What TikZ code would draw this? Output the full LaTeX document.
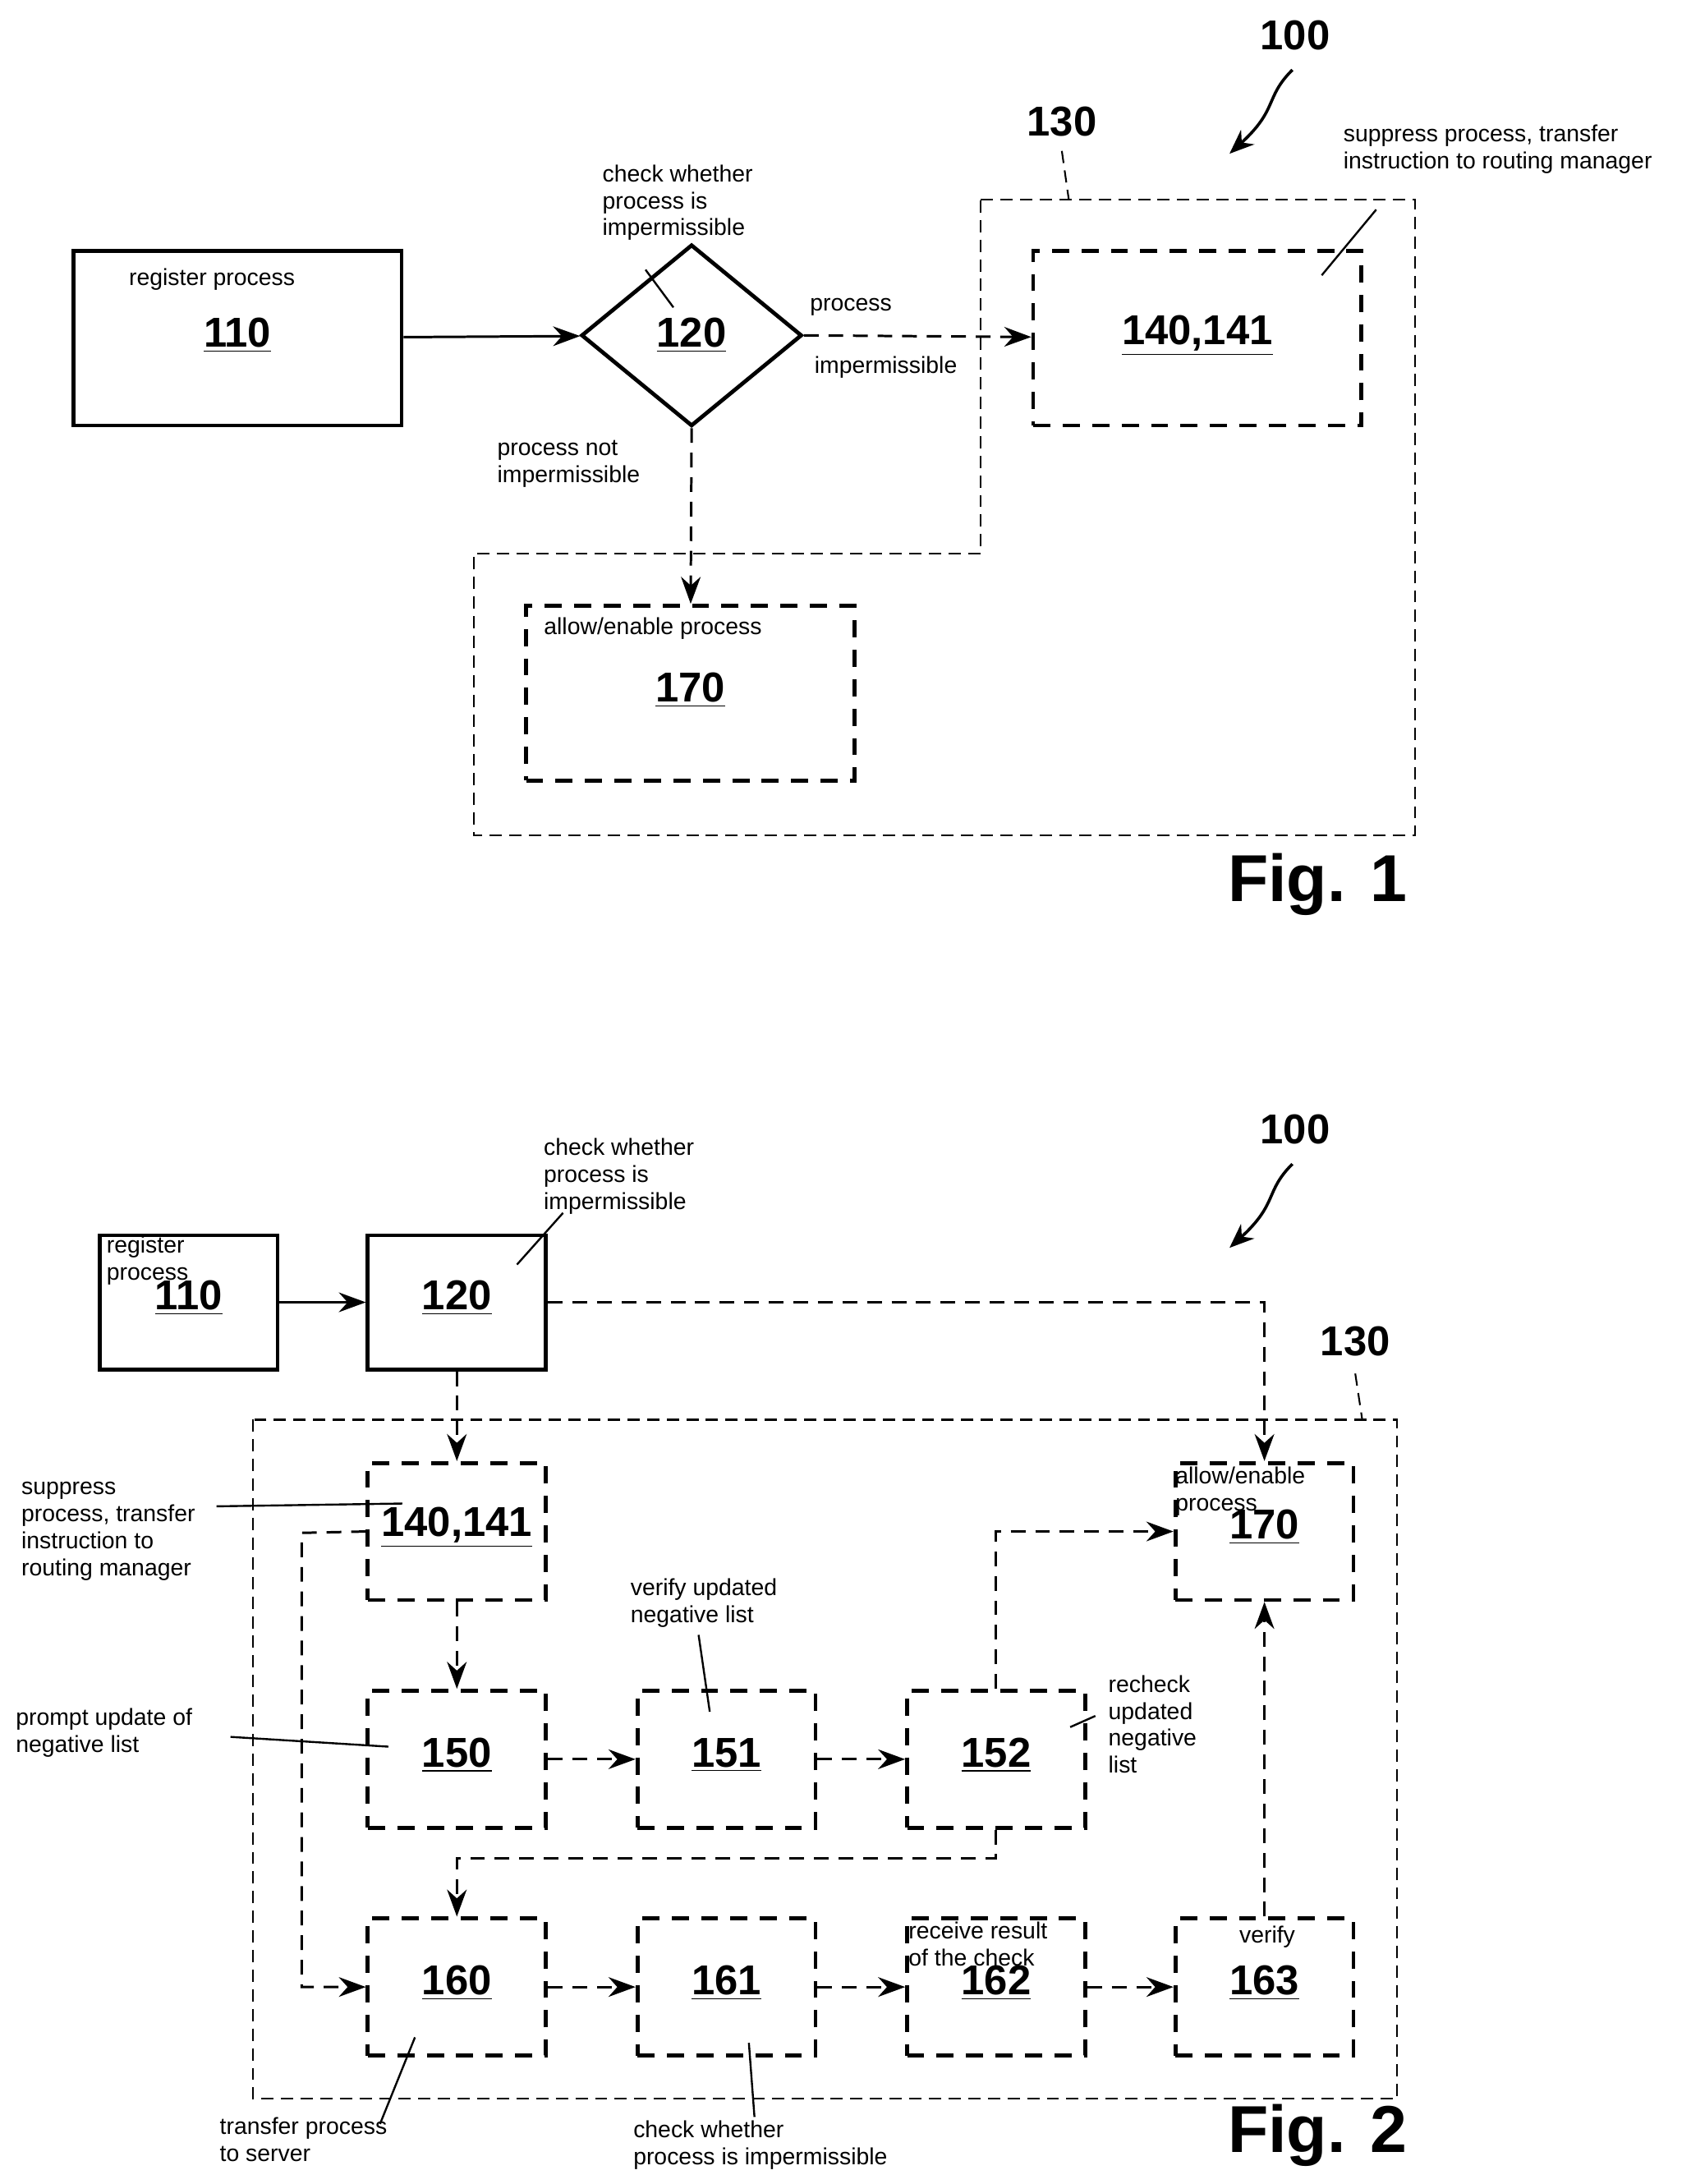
\documentclass[tikz,border=0pt]{standalone}
\usepackage{fontspec}
\setmainfont{Liberation Sans}
\usetikzlibrary{arrows.meta,shapes.geometric,positioning}
\tikzset{
  blk/.style={draw, line width=1.6pt, minimum width=4.7cm, minimum height=2.5cm},
  dblk/.style={blk, dash pattern=on 7pt off 5pt, minimum width=2.55cm, minimum height=1.96cm},
  flow/.style={line width=1pt, -{Stealth[length=11pt,width=8pt]}},
  dflow/.style={flow, dash pattern=on 6pt off 4pt},
  area/.style={draw, line width=0.7pt, dash pattern=on 5pt off 3pt},
  lbl/.style={font=\fontsize{9.5}{11}\selectfont, align=left, inner sep=0pt},
  num/.style={font=\bfseries\fontsize{17}{18}\selectfont},
  ref/.style={font=\bfseries\fontsize{17}{18}\selectfont},
  figl/.style={font=\bfseries\fontsize{27}{30}\selectfont},
  lead/.style={line width=0.8pt}
}
\newcommand{\nr}[1]{\underline{#1}}
\begin{document}
\begin{tikzpicture}[x=0.02cm, y=-0.02cm]
\useasboundingbox (0,0) rectangle (1210,1563);

 %Fig. 1
 \draw[area] (702,143) -- (1013,143) -- (1013,598) -- (339,598) -- (339,396) -- (702,396) -- cycle;
 \node[blk] (f1a) at (170,242) {};
 \node[num] at (170,240) {\nr{110}};
 \node[lbl, anchor=west] at (92,200) {register process};
 \node[draw, diamond, line width=1.6pt, minimum width=3.16cm, minimum height=2.6cm, inner sep=0pt] (f1b) at (495,240) {};
 \node[num] at (495,240) {\nr{120}};
 \node[lbl] at (485,145) {check whether\\process is\\impermissible};
 \draw[lead] (462,193) -- (482,220);
 \node[blk, dash pattern=on 7pt off 5pt] (f1c) at (857,242) {};
 \node[num] at (857,240) {\nr{140,141}};
 \node[lbl] at (1072,107) {suppress process, transfer\\instruction to routing manager};
 \draw[lead] (985,150) -- (946,197);
 \node[blk, dash pattern=on 7pt off 5pt] (f1d) at (494,496) {};
 \node[num] at (494,494) {\nr{170}};
 \node[lbl, anchor=west] at (389,450) {allow/enable process};
 \draw[flow] (f1a) -- (f1b);
 \draw[dflow] (f1b.east) -- (f1c);
 \node[lbl] at (609,220) {process};
 \node[lbl] at (634,263) {impermissible};
 \draw[dflow] (f1b.south) -- (f1d);
 \node[lbl] at (407,332) {process not\\impermissible};
 \node[ref] at (760,87) {130};
 \draw[area] (760,108) -- (765,143);
 \node[ref] at (927,25) {100};
 \draw[line width=1.2pt, -{Stealth[length=10pt,width=8pt]}] (925,50) .. controls (905,70) and (915,78) .. (880,110);
 \node[figl] at (943,633) {Fig. 1};

 %Fig. 2
 \draw[area] (181,1016) rectangle (1000,1502);
 \node[blk, minimum width=2.55cm, minimum height=1.92cm] (b110) at (135,932) {};
 \node[num] at (135,929) {\nr{110}};
 \node[lbl, anchor=west] at (76,902) {register\\process};
 \node[blk, minimum width=2.55cm, minimum height=1.92cm] (b120) at (327,932) {};
 \node[num] at (327,929) {\nr{120}};
 \node[lbl] at (443,842) {check whether\\process is\\impermissible};
 \draw[lead] (403,868) -- (370,905);

 \foreach \x/\y/\name/\num in {327/1096/b140/{140,141}, 905/1096/b170/170,
     327/1259/b150/150, 520/1259/b151/151, 713/1259/b152/152,
     327/1422/b160/160, 520/1422/b161/161, 713/1422/b162/162, 905/1422/b163/163}{
   \node[dblk] (\name) at (\x,\y) {};
   \node[num] at (\x,\y-3) {\nr{\num}};
 }
 \node[lbl, anchor=west] at (841,1067) {allow/enable\\process};
 \node[lbl, anchor=west] at (650,1391) {receive result\\of the check};
 \node[lbl] at (907,1386) {verify};

 \draw[flow] (b110) -- (b120);
 \draw[dflow] (b120.east) -| (b170.north);
 \draw[dflow] (b120.south) -- (b140.north);
 \draw[dflow] (b140.south) -- (b150.north);
 \draw[dflow] (b150) -- (b151);
 \draw[dflow] (b151) -- (b152);
 \draw[dflow] (b152.north) |- (b170.west);
 \draw[dflow] (b152.south) -- (713,1330) -| (b160.north);
 \draw[dflow] (b140.west) -- (216,1097) |- (b160.west);
 \draw[dflow] (b160) -- (b161);
 \draw[dflow] (b161) -- (b162);
 \draw[dflow] (b162) -- (b163);
 \draw[dflow] (b163.north) -- (b170.south);

 \node[lbl, anchor=west] at (15,1096) {suppress\\process, transfer\\instruction to\\routing manager};
 \draw[lead] (155,1078) -- (288,1076);
 \node[lbl, anchor=west] at (11,1240) {prompt update of\\negative list};
 \draw[lead] (165,1243) -- (278,1250);
 \node[lbl, anchor=west] at (451,1147) {verify updated\\negative list};
 \draw[lead] (500,1170) -- (508,1225);
 \node[lbl, anchor=west] at (793,1234) {recheck\\updated\\negative\\list};
 \draw[lead] (766,1236) -- (784,1228);
 \node[lbl, anchor=west] at (157,1531) {transfer process\\to server};
 \draw[lead] (272,1520) -- (297,1458);
 \node[lbl, anchor=west] at (453,1535) {check whether\\process is impermissible};
 \draw[lead] (536,1462) -- (540,1515);

 \node[ref] at (970,960) {130};
 \draw[area] (970,983) -- (975,1016);
 \node[ref] at (927,808) {100};
 \draw[line width=1.2pt, -{Stealth[length=10pt,width=8pt]}] (925,833) .. controls (905,853) and (915,861) .. (880,893);
 \node[figl] at (943,1528) {Fig. 2};
\end{tikzpicture}
\end{document}
